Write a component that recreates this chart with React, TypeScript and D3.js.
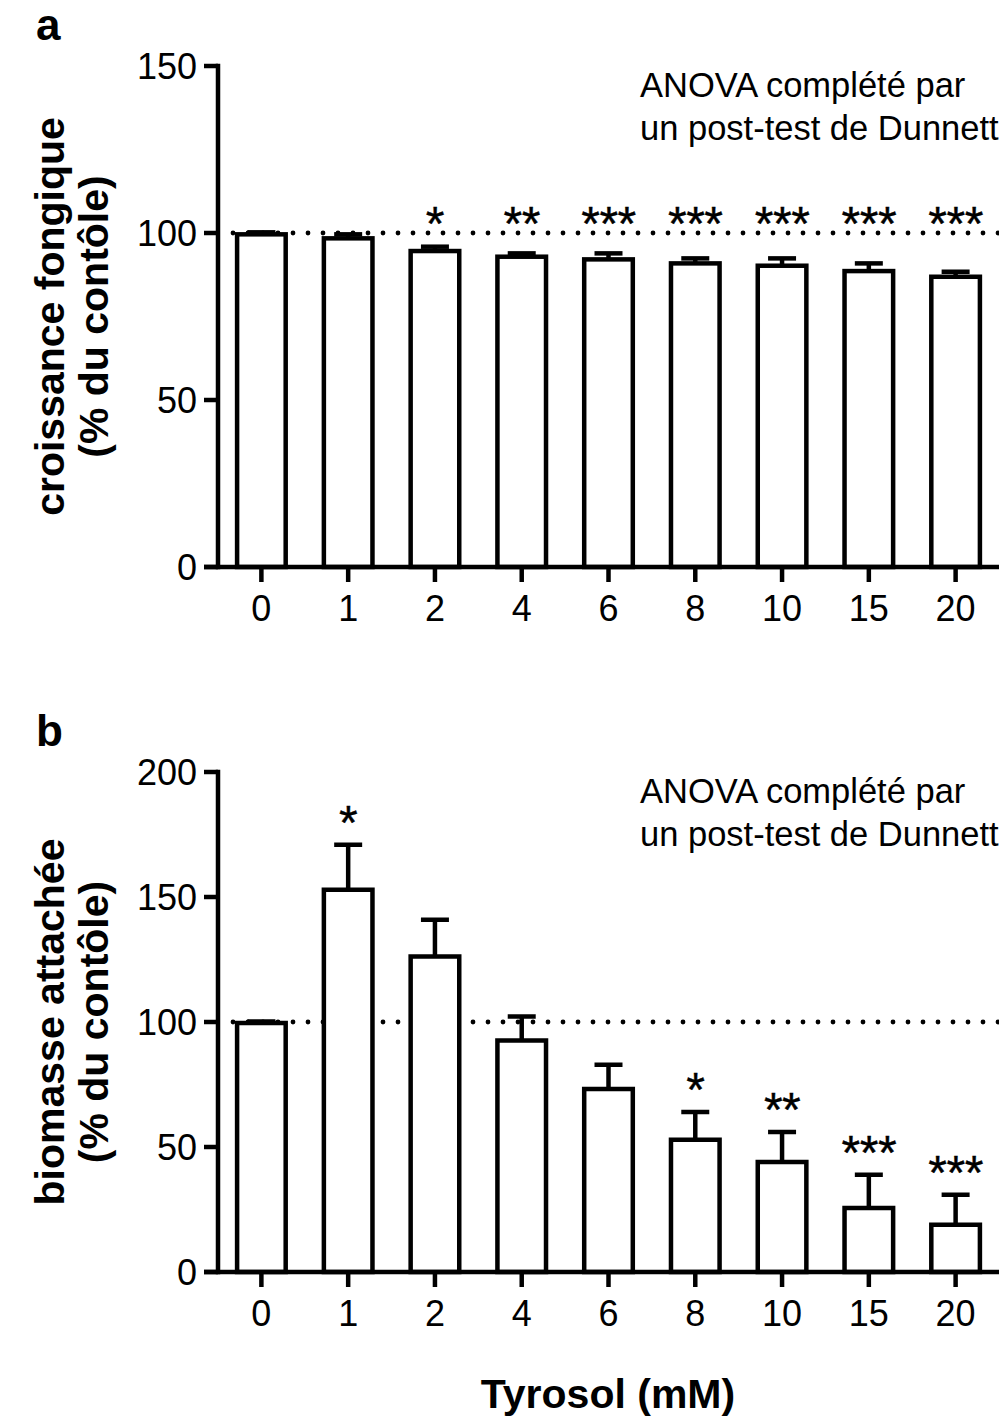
import { useEffect, useRef } from 'react';
import * as d3 from 'd3';

// Tyrosol concentrations (mM)
const categories = ['0', '1', '2', '4', '6', '8', '10', '15', '20'];

// panel a : fungal growth (% of control)
const growthMean = [99.6, 98.4, 94.6, 92.9, 92.1, 90.9, 90.2, 88.6, 86.9];
const growthErr = [0.6, 1.2, 1.3, 1.0, 1.8, 1.5, 2.2, 2.3, 1.5];
const growthStars = ['', '', '*', '**', '***', '***', '***', '***', '***'];
const growthTicks = [0, 50, 100, 150];

// panel b : attached biomass (% of control)
const biomassMean = [99.6, 152.9, 126.2, 92.6, 73.2, 52.9, 44.0, 25.6, 18.9];
const biomassErr = [0.6, 18.0, 14.7, 9.6, 9.7, 11.1, 12.0, 13.3, 12.0];
const biomassStars = ['', '*', '', '', '', '*', '**', '***', '***'];
const biomassTicks = [0, 50, 100, 150, 200];

const FONT = "'Liberation Sans', Arial, Helvetica, sans-serif";
const SW = 4.5;

type Panel = {
  letter: string;
  top: number;
  bottom: number;
  max: number;
  ticks: number[];
  mean: number[];
  err: number[];
  stars: string[];
  fixedStars: boolean;
  label: [string, string];
};

function drawPanel(svg: d3.Selection<SVGSVGElement, unknown, null, undefined>, p: Panel) {
  const left = 218;
  const right = 999;
  const x = d3.scaleBand<string>().domain(categories).range([left, right]).paddingInner(0.44).paddingOuter(0.22);
  const y = d3.scaleLinear().domain([0, p.max]).range([p.bottom, p.top]);
  const cx = (c: string) => x(c)! + x.bandwidth() / 2;

  const g = svg.append('g');
  const rows = categories.map((c, i) => ({ c, m: p.mean[i], e: p.err[i], s: p.stars[i] }));

  // dotted reference line at 100 %
  g.append('line')
    .attr('x1', 233)
    .attr('x2', right)
    .attr('y1', y(100))
    .attr('y2', y(100))
    .attr('stroke', '#000')
    .attr('stroke-width', 4.8)
    .attr('stroke-linecap', 'round')
    .attr('stroke-dasharray', '0 15');

  // error bars (upper only)
  const eb = g.selectAll('.err').data(rows).enter().append('g').attr('class', 'err');
  eb.append('line')
    .attr('x1', d => cx(d.c))
    .attr('x2', d => cx(d.c))
    .attr('y1', d => y(d.m))
    .attr('y2', d => y(d.m + d.e))
    .attr('stroke', '#000')
    .attr('stroke-width', SW);
  eb.append('line')
    .attr('x1', d => cx(d.c) - 14)
    .attr('x2', d => cx(d.c) + 14)
    .attr('y1', d => y(d.m + d.e))
    .attr('y2', d => y(d.m + d.e))
    .attr('stroke', '#000')
    .attr('stroke-width', SW);

  // bars
  g.selectAll('.bar')
    .data(rows)
    .enter()
    .append('rect')
    .attr('class', 'bar')
    .attr('x', d => x(d.c)!)
    .attr('width', x.bandwidth())
    .attr('y', d => y(d.m))
    .attr('height', d => p.bottom - y(d.m))
    .attr('fill', '#fff')
    .attr('stroke', '#000')
    .attr('stroke-width', SW);

  // significance stars
  g.selectAll('.star')
    .data(rows.filter(d => d.s))
    .enter()
    .append('text')
    .attr('class', 'star')
    .attr('x', d => cx(d.c))
    .attr('y', d => (p.fixedStars ? y(100) + 7 : y(d.m + d.e) - 6))
    .attr('text-anchor', 'middle')
    .attr('font-family', FONT)
    .attr('font-size', 48)
    .attr('letter-spacing', -0.5)
    .attr('stroke', '#000')
    .attr('stroke-width', 0.4)
    .text(d => d.s);

  // y axis
  g.append('line')
    .attr('x1', left)
    .attr('x2', left)
    .attr('y1', p.top - SW / 2)
    .attr('y2', p.bottom + SW / 2)
    .attr('stroke', '#000')
    .attr('stroke-width', SW);
  const yt = g.selectAll('.ytick').data(p.ticks).enter().append('g').attr('class', 'ytick');
  yt.append('line')
    .attr('x1', 204)
    .attr('x2', left)
    .attr('y1', d => y(d))
    .attr('y2', d => y(d))
    .attr('stroke', '#000')
    .attr('stroke-width', SW);
  yt.append('text')
    .attr('x', 197)
    .attr('y', d => y(d) + 13)
    .attr('text-anchor', 'end')
    .attr('font-family', FONT)
    .attr('font-size', 36)
    .text(d => d);

  // x axis
  g.append('line')
    .attr('x1', 204)
    .attr('x2', right)
    .attr('y1', p.bottom)
    .attr('y2', p.bottom)
    .attr('stroke', '#000')
    .attr('stroke-width', SW);
  const xt = g.selectAll('.xtick').data(categories).enter().append('g').attr('class', 'xtick');
  xt.append('line')
    .attr('x1', d => cx(d))
    .attr('x2', d => cx(d))
    .attr('y1', p.bottom)
    .attr('y2', p.bottom + 15)
    .attr('stroke', '#000')
    .attr('stroke-width', SW);
  xt.append('text')
    .attr('x', d => cx(d))
    .attr('y', p.bottom + 54)
    .attr('text-anchor', 'middle')
    .attr('font-family', FONT)
    .attr('font-size', 36)
    .text(d => d);

  // y label (two lines, rotated)
  const cy = (p.top + p.bottom) / 2;
  p.label.forEach((t, i) => {
    g.append('text')
      .attr('transform', `translate(${64 + i * 44},${cy}) rotate(-90)`)
      .attr('text-anchor', 'middle')
      .attr('font-family', FONT)
      .attr('font-weight', 'bold')
      .attr('font-size', 41)
      .text(t);
  });

  // panel letter
  g.append('text')
    .attr('x', 36)
    .attr('y', p.top - 26)
    .attr('font-family', FONT)
    .attr('font-weight', 'bold')
    .attr('font-size', 44)
    .text(p.letter);

  // statistics note
  ['ANOVA complété par', 'un post-test de Dunnett'].forEach((t, i) => {
    g.append('text')
      .attr('x', 640)
      .attr('y', p.top + 31 + i * 43)
      .attr('font-family', FONT)
      .attr('font-size', 34.5)
      .text(t);
  });
}

export default function App() {
  const svgRef = useRef<SVGSVGElement>(null);

  useEffect(() => {
    const svg = d3.select(svgRef.current!);
    svg.selectAll('*').remove();

    drawPanel(svg, {
      letter: 'a',
      top: 66,
      bottom: 567,
      max: 150,
      ticks: growthTicks,
      mean: growthMean,
      err: growthErr,
      stars: growthStars,
      fixedStars: true,
      label: ['croissance fongique', '(% du contôle)'],
    });

    drawPanel(svg, {
      letter: 'b',
      top: 772,
      bottom: 1272,
      max: 200,
      ticks: biomassTicks,
      mean: biomassMean,
      err: biomassErr,
      stars: biomassStars,
      fixedStars: false,
      label: ['biomasse attachée', '(% du contôle)'],
    });

    svg.append('text')
      .attr('x', 608)
      .attr('y', 1408)
      .attr('text-anchor', 'middle')
      .attr('font-family', FONT)
      .attr('font-weight', 'bold')
      .attr('font-size', 41)
      .text('Tyrosol (mM)');
  }, []);

  return (
    <svg
      ref={svgRef}
      width={999}
      height={1417}
      style={{ position: 'absolute', left: 0, top: 0, background: '#fff' }}
    />
  );
}
